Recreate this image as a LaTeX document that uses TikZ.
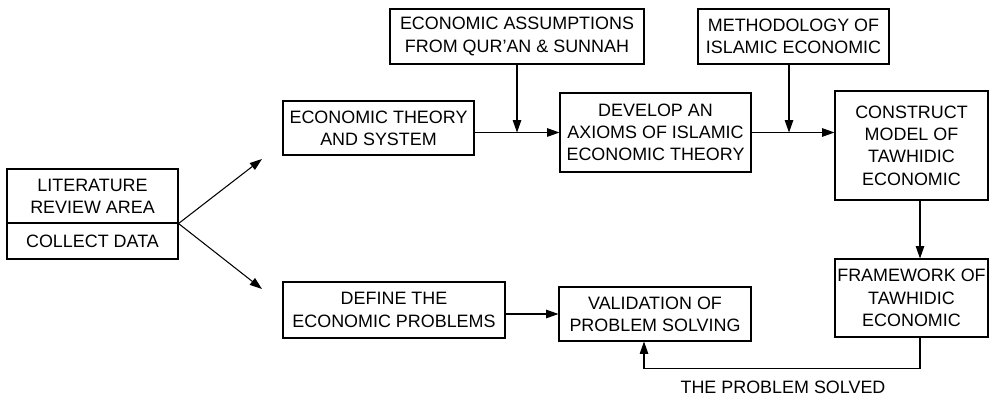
\documentclass[tikz,border=0pt]{standalone}
\usepackage{fontspec}
\setmainfont{Liberation Sans}
\usetikzlibrary{arrows.meta}

\begin{document}
\begin{tikzpicture}[x=0.02cm, y=-0.02cm]

        \tikzstyle{box}   = [draw, line width=0.6pt, inner sep=0pt, align=center,
                             font=\fontsize{10.2}{12.7}\selectfont]
        \tikzstyle{wh}    = [minimum width=#1*0.02cm]
        \tikzstyle{ht}    = [minimum height=#1*0.02cm]
        \tikzstyle{flow}  = [line width=0.6pt, -{Triangle[length=7pt, width=4.8pt]}]

        \useasboundingbox (0,0) rectangle (989,398);

        % start of the study
        \node [box, wh=171, ht=54] (litrev) at (92.5,196) {LITERATURE\\REVIEW AREA};
        \node [box, wh=171, ht=36] (collect) at (92.5,241) {COLLECT DATA};

        % upper branch
        \node [box, wh=191, ht=54] (theory) at (378.5,128) {ECONOMIC THEORY\\AND SYSTEM};
        \node [box, wh=254, ht=55] (assume) at (517,36.5) {ECONOMIC ASSUMPTIONS\\FROM QUR'AN \& SUNNAH};
        \node [box, wh=191, ht=79] (develop) at (655.5,132.5) {DEVELOP AN\\AXIOMS OF ISLAMIC\\ECONOMIC THEORY};
        \node [box, wh=191, ht=55] (method) at (793.5,36.5) {METHODOLOGY OF\\ISLAMIC ECONOMIC};
        \node [box, wh=153, ht=109] (construct) at (911.5,145.5) {CONSTRUCT\\MODEL OF\\TAWHIDIC\\ECONOMIC};
        \node [box, wh=153, ht=78] (frame) at (911.5,298) {FRAMEWORK OF\\TAWHIDIC\\ECONOMIC};

        % lower branch
        \node [box, wh=222, ht=56] (define) at (394,310) {DEFINE THE\\ECONOMIC PROBLEMS};
        \node [box, wh=192, ht=54] (valid) at (655,314) {VALIDATION OF\\PROBLEM SOLVING};

        \node [font=\fontsize{10.2}{12.7}\selectfont] (solved) at (783,387) {THE PROBLEM SOLVED};

        \coordinate (up) at (262,159);
        \coordinate (down) at (262,289);

        \foreach \t in {up, down}
        {
                \draw [flow] (litrev.south east) -- (\t);
        }

        \draw [flow] (theory.east |- develop.west) -- (develop.west);
        \draw [flow] (assume.south) -- (assume.south |- develop.west);
        \draw [flow] (develop.east) -- (develop.east -| construct.west);
        \draw [flow] ([xshift=-4.5*0.02cm]method.south) -- ([xshift=-4.5*0.02cm]method.south |- develop.east);
        \draw [flow] ([xshift=8.5*0.02cm]construct.south) -- ([xshift=8.5*0.02cm]frame.north);
        \draw [flow] (define.east |- valid.west) -- (valid.west);
        \draw [flow] ([xshift=8.5*0.02cm]frame.south) -- ++(0,31) -| ([xshift=-11*0.02cm]valid.south);

\end{tikzpicture}
\end{document}
